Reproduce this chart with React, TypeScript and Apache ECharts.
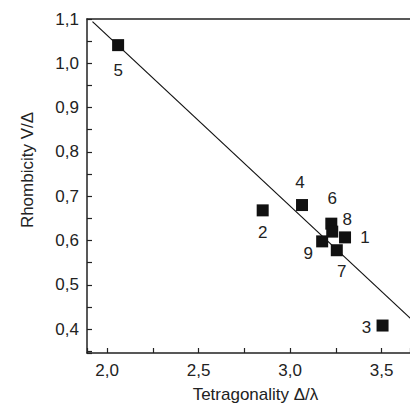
import React, { useEffect, useRef } from "react";
import * as echarts from "echarts";

const labels = ["1", "2", "3", "4", "5", "6", "7", "8", "9"];
const tetragonality = [3.3, 2.85, 3.505, 3.065, 2.06, 3.225, 3.255, 3.23, 3.175];
const rhombicity = [0.607, 0.668, 0.408, 0.68, 1.041, 0.638, 0.578, 0.62, 0.598];
const labelOffsets: [number, number][] = [
  [20, 0], [0, 22], [-16, 2], [-2, -23], [0, 25], [1, -25], [5, 21], [15, -12], [-14, 12],
];
const fitLineX = [1.92, 3.66];
const fitLineY = [1.094, 0.423];

export default function App() {
  const ref = useRef<HTMLDivElement>(null);
  useEffect(() => {
    if (!ref.current) return;
    const chart = echarts.init(ref.current, undefined, { renderer: "svg" });
    const font = "Liberation Sans, Arial, sans-serif";
    const axisLine = { lineStyle: { color: "#222", width: 1.5 } };
    const fmt = (v: number) => v.toFixed(1).replace(".", ",");
    chart.setOption({
      animation: false,
      grid: { left: 87, top: 19, right: 0, bottom: 58 },
      xAxis: [
        {
          type: "value",
          min: 1.89,
          max: 3.655,
          splitNumber: 4,
          name: "Tetragonality \u0394/\u03bb",
          nameLocation: "middle",
          nameGap: 33,
          nameTextStyle: { fontFamily: font, fontSize: 17, color: "#222", padding: [0, 0, 0, 14] },
          axisLine: { ...axisLine, onZero: false },
          axisTick: { inside: true, length: 5, lineStyle: { color: "#222", width: 1.2 } },
          minorTick: { show: true, splitNumber: 2, length: 5, lineStyle: { color: "#222", width: 1.2 } },
          axisLabel: {
            fontFamily: font,
            fontSize: 17,
            color: "#222",
            margin: 9,
            showMinLabel: false,
            showMaxLabel: false,
            formatter: fmt,
          },
          splitLine: { show: false },
        },
        {
          type: "value",
          position: "top",
          min: 1.89,
          max: 3.655,
          axisLine: { ...axisLine, onZero: false },
          axisTick: { show: false },
          axisLabel: { show: false },
          splitLine: { show: false },
        },
      ],
      yAxis: {
        type: "value",
        min: 0.346,
        max: 1.1,
        splitNumber: 7,
        axisLine: { ...axisLine, onZero: false },
        axisTick: { inside: true, length: 5, lineStyle: { color: "#222", width: 1.2 } },
        minorTick: { show: true, splitNumber: 2, length: 5, lineStyle: { color: "#222", width: 1.2 } },
        axisLabel: {
          fontFamily: font,
          fontSize: 17,
          color: "#222",
          margin: 8,
          showMinLabel: false,
          formatter: fmt,
        },
        splitLine: { show: false },
      },
      graphic: [
        {
          type: "text",
          x: 27,
          y: 170,
          rotation: Math.PI / 2,
          style: {
            text: "Rhombicity V/\u0394",
            fontFamily: font,
            fontSize: 17,
            fill: "#222",
            align: "center",
            verticalAlign: "middle",
          },
        },
      ],
      series: [
        {
          type: "line",
          data: fitLineX.map((x, i) => [x, fitLineY[i]]),
          showSymbol: false,
          symbol: "none",
          lineStyle: { color: "#111", width: 1.2 },
          silent: true,
          z: 1,
        },
        {
          type: "scatter",
          symbol: "rect",
          symbolSize: 12,
          itemStyle: { color: "#111", opacity: 1 },
          z: 3,
          data: tetragonality.map((x, i) => ({
            value: [x, rhombicity[i]],
            label: {
              show: true,
              formatter: labels[i],
              position: "inside",
              offset: labelOffsets[i],
              fontFamily: font,
              fontSize: 17,
              color: "#222",
            },
          })),
        },
      ],
    });
    return () => chart.dispose();
  }, []);
  return (
    <div
      ref={ref}
      style={{ position: "fixed", left: 0, top: 0, width: 410, height: 411, background: "#fff" }}
    />
  );
}
